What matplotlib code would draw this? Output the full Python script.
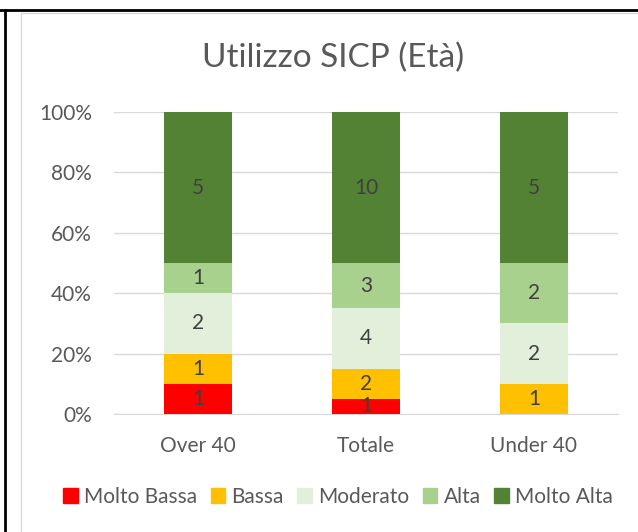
import numpy as np
import matplotlib.pyplot as plt
from matplotlib.lines import Line2D
from matplotlib.ticker import PercentFormatter

plt.rcParams['font.family'] = ['Lato', 'DejaVu Sans']

categories = ['Over 40', 'Totale', 'Under 40']
series = ['Molto Bassa', 'Bassa', 'Moderato', 'Alta', 'Molto Alta']
values = {
    'Molto Bassa': [1, 1, 0],
    'Bassa': [1, 2, 1],
    'Moderato': [2, 4, 2],
    'Alta': [1, 3, 2],
    'Molto Alta': [5, 10, 5],
}
colors = ['#FF0000', '#FFC000', '#E2EFDA', '#A9D18E', '#548235']

txt = '#595959'

fig = plt.figure(figsize=(6.38, 5.32), dpi=100)
ax = fig.add_axes([114/638, 1-414/532, 504/638, 302/532])

data = np.array([values[s] for s in series], dtype=float)
totals = data.sum(axis=0)
pct = data / totals
x = np.arange(len(categories))
bottom = np.zeros(len(categories))
for i, s in enumerate(series):
    bars = ax.bar(x, pct[i], 0.4, bottom=bottom, color=colors[i], label=s, zorder=3)
    for j, b in enumerate(bars):
        if data[i, j] > 0:
            ax.text(b.get_x() + b.get_width()/2, bottom[j] + pct[i, j]/2, '%d' % data[i, j],
                    ha='center', va='center', fontsize=15, color='#404040', zorder=4)
    bottom += pct[i]

ax.set_xlim(-0.5, 2.5)
ax.set_ylim(0, 1)
ax.set_yticks(np.arange(0, 1.01, 0.2))
ax.yaxis.set_major_formatter(PercentFormatter(1, decimals=0))
ax.set_xticks(x)
ax.set_xticklabels(categories)
ax.tick_params(length=0, labelsize=15, labelcolor=txt)
ax.tick_params(axis='x', pad=16)
ax.tick_params(axis='y', pad=16)
ax.grid(axis='y', color='#D9D9D9', lw=1, zorder=0)
for sp in ['top', 'right', 'left']:
    ax.spines[sp].set_visible(False)
ax.spines['bottom'].set_color('#D9D9D9')

fig.text(333/638, 1-58/532, 'Utilizzo SICP (Età)', ha='center', va='center', fontsize=24, color=txt)

handles = [plt.Rectangle((0, 0), 1, 1, color=c) for c in colors]
fig.legend(handles, series, loc='center', bbox_to_anchor=(338/638, 1-497/532), ncol=5,
           frameon=False, fontsize=15, labelcolor=txt, handlelength=0.7, handleheight=0.7,
           handletextpad=0.3, columnspacing=0.65)

# chart frame
fig.add_artist(Line2D([21/638, 21/638], [0, 1-13/532], color='#D9D9D9', lw=1))
fig.add_artist(Line2D([21/638, 1], [1-13/532, 1-13/532], color='#D9D9D9', lw=1))
fig.add_artist(Line2D([0, 1], [1-10/532, 1-10/532], color='black', lw=2))
fig.add_artist(Line2D([5/638, 5/638], [0, 1-10/532], color='black', lw=2))

fig.savefig('out.png', dpi=100)
